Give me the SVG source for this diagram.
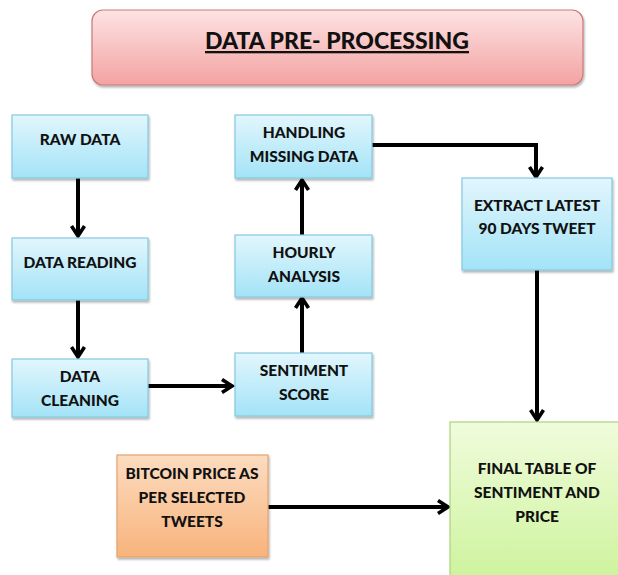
<svg xmlns="http://www.w3.org/2000/svg" width="618" height="575" viewBox="0 0 618 575">
<defs>
<linearGradient id="gBlue" x1="0" y1="0" x2="0" y2="1"><stop offset="0" stop-color="#e2f6fd"/><stop offset="1" stop-color="#a3e3f7"/></linearGradient>
<linearGradient id="gPink" x1="0" y1="0" x2="0" y2="1"><stop offset="0" stop-color="#fde3e3"/><stop offset="1" stop-color="#f4a2a2"/></linearGradient>
<linearGradient id="gOrange" x1="0" y1="0" x2="0" y2="1"><stop offset="0" stop-color="#fcdcc0"/><stop offset="1" stop-color="#f8b37c"/></linearGradient>
<linearGradient id="gGreen" x1="0" y1="0" x2="0" y2="1"><stop offset="0" stop-color="#f0fcdc"/><stop offset="1" stop-color="#cdf39c"/></linearGradient>
<filter id="sh" x="-10%" y="-10%" width="130%" height="130%"><feDropShadow dx="1" dy="2" stdDeviation="1.2" flood-color="#000" flood-opacity="0.3"/></filter>
<marker id="ah" viewBox="0 0 16 16" refX="13" refY="8" markerWidth="16" markerHeight="16" markerUnits="userSpaceOnUse" orient="auto">
<path d="M3,1.5 L13,8 L3,14.5" fill="none" stroke="#000" stroke-width="3.6"/>
</marker>
</defs>
<style>
.blue{fill:url(#gBlue);stroke:#86c9df;stroke-width:1.2;filter:url(#sh)}
.t{font-family:Lato,"Open Sans","Liberation Sans",sans-serif;font-weight:900;font-size:15.5px;fill:#111;text-anchor:middle}
.c{fill:none;stroke:#000;stroke-width:4;marker-end:url(#ah)}
</style>
<g id="title">
<rect x="92" y="10" width="491" height="75" rx="11" fill="url(#gPink)" stroke="#c97b7b" stroke-width="1.2" filter="url(#sh)"/>
<text x="337" y="49" class="t" style="font-size:23px;text-decoration:underline">DATA PRE- PROCESSING</text>
</g>
<g id="connectors">
<path class="c" d="M78,178 V236"/>
<path class="c" d="M78,300 V357"/>
<path class="c" d="M148,386 H232"/>
<path class="c" d="M302,353 V298"/>
<path class="c" d="M302,235 V180"/>
<path class="c" d="M372,145 H536 V177"/>
<path class="c" d="M537,270 V420"/>
<path class="c" d="M268,507 H448"/>
</g>
<g id="raw-data"><rect class="blue" x="12" y="115" width="136" height="63"/><text class="t" x="80" y="145">RAW DATA</text></g>
<g id="data-reading"><rect class="blue" x="12" y="238" width="136" height="62"/><text class="t" x="80" y="268">DATA READING</text></g>
<g id="data-cleaning"><rect class="blue" x="12" y="359" width="136" height="58"/><text class="t" x="80" y="382">DATA</text><text class="t" x="80" y="406">CLEANING</text></g>
<g id="sentiment-score"><rect class="blue" x="235" y="353" width="137" height="63"/><text class="t" x="304" y="376">SENTIMENT</text><text class="t" x="304" y="400">SCORE</text></g>
<g id="hourly-analysis"><rect class="blue" x="235" y="235" width="137" height="62"/><text class="t" x="304" y="258">HOURLY</text><text class="t" x="304" y="282">ANALYSIS</text></g>
<g id="handling-missing"><rect class="blue" x="235" y="115" width="137" height="63"/><text class="t" x="304" y="138">HANDLING</text><text class="t" x="304" y="162">MISSING DATA</text></g>
<g id="extract-latest"><rect class="blue" x="462" y="178" width="150" height="92"/><text class="t" x="537" y="211">EXTRACT LATEST</text><text class="t" x="537" y="234">90 DAYS TWEET</text></g>
<g id="bitcoin-price"><rect x="117" y="455" width="151" height="102" fill="url(#gOrange)" stroke="#e3a36f" stroke-width="1.2" filter="url(#sh)"/><text class="t" x="192" y="479">BITCOIN PRICE AS</text><text class="t" x="192" y="503">PER SELECTED</text><text class="t" x="192" y="527">TWEETS</text></g>
<g id="final-table"><rect x="450" y="422" width="175" height="160" fill="url(#gGreen)" stroke="#a9d27c" stroke-width="1.2"/><text class="t" x="537" y="474">FINAL TABLE OF</text><text class="t" x="537" y="498">SENTIMENT AND</text><text class="t" x="537" y="522">PRICE</text></g>
</svg>
